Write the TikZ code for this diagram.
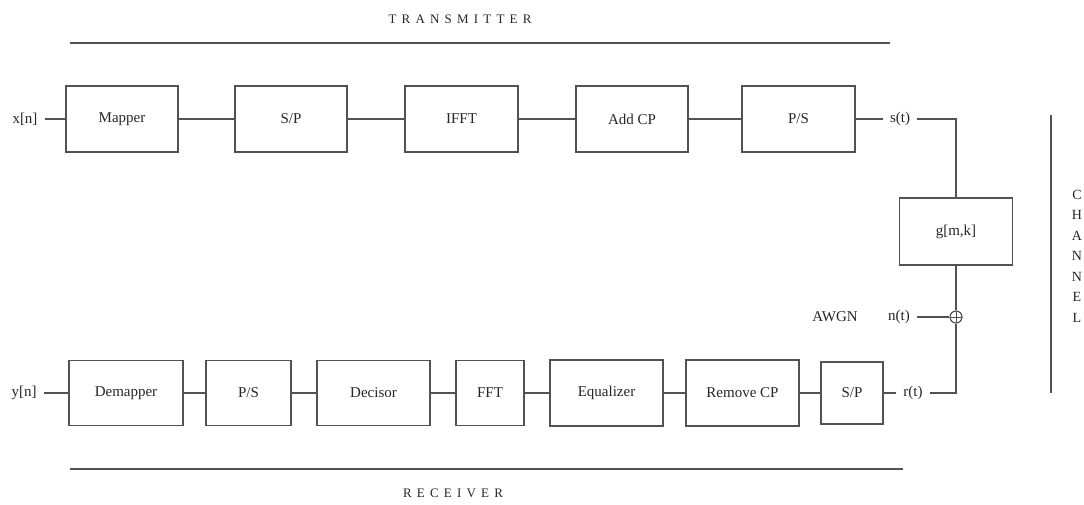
\documentclass[tikz,border=0pt]{standalone}
\usepackage{fontspec}
\setmainfont{Liberation Serif}
\newfontfamily\spacedfont[LetterSpace=40]{Liberation Serif}
\begin{document}
\begin{tikzpicture}[x=1pt,y=-1pt,
  ln/.style={draw=black!68,line width=1.2pt},
  txt/.style={font=\fontsize{15}{17}\selectfont,text=black!85},
  blk/.style={ln,txt,rectangle,minimum height=66pt,inner sep=0pt},
  lab/.style={txt,inner sep=7pt},
  wire/.style={ln}]
\useasboundingbox (0,0) rectangle (1084,504);
% transmitter
\node[txt,font=\spacedfont\fontsize{13}{15}\selectfont] (tx) at (460,19) {TRANSMITTER};
\draw[wire] (70,43) -- (890,43);
\node[lab] (xn) at (25,119) {x[n]};
\node[blk,minimum width=112pt] (map) at (122,119) {Mapper};
\node[blk,minimum width=112pt] (sp1) at (291,119) {S/P};
\node[blk,minimum width=113pt] (ifft) at (461.5,119) {IFFT};
\node[blk,minimum width=112pt] (acp) at (632,119) {Add CP};
\node[blk,minimum width=113pt] (ps1) at (798.5,119) {P/S};
\node[lab] (st) at (900,119) {s(t)};
\draw[wire] (xn) -- (map);
\draw[wire] (map) -- (sp1);
\draw[wire] (sp1) -- (ifft);
\draw[wire] (ifft) -- (acp);
\draw[wire] (acp) -- (ps1);
\draw[wire] (ps1) -- (st);
% channel
\node[blk,minimum width=113pt,minimum height=67pt] (g) at (956,231.5) {g[m,k]};
\draw[wire] (st.east) -| (g.north);
\node[ln,circle,minimum size=12pt,inner sep=0pt,
  path picture={\draw[black!68,line width=1pt]
    (path picture bounding box.north) -- (path picture bounding box.south)
    (path picture bounding box.west) -- (path picture bounding box.east);}] (sum) at (956,317) {};
\node[lab] (nt) at (899,317) {n(t)};
\node[lab] (awgn) at (835,317) {AWGN};
\draw[wire] (g) -- (sum);
\draw[wire] (nt) -- (sum);
\draw[wire] (1051,115) -- (1051,393);
\node[txt,font=\fontsize{14}{20.5}\selectfont,align=center,inner sep=0pt] (ch) at (1077,256) {C\\H\\A\\N\\N\\E\\L};
% receiver
\node[lab] (rt) at (913,393) {r(t)};
\draw[wire] (sum) |- (rt);
\node[blk,minimum width=62pt,minimum height=62pt] (sp2) at (852,393) {S/P};
\node[blk,minimum width=113pt] (rcp) at (742.5,393) {Remove CP};
\node[blk,minimum width=113pt] (eq) at (606.5,393) {Equalizer};
\node[blk,minimum width=68pt,minimum height=65pt] (fft) at (490,393) {FFT};
\node[blk,minimum width=113pt,minimum height=65pt] (dec) at (373.5,393) {Decisor};
\node[blk,minimum width=85pt,minimum height=65pt] (ps2) at (248.5,393) {P/S};
\node[blk,minimum width=114pt,minimum height=65pt] (dem) at (126,393) {Demapper};
\node[lab] (yn) at (24,393) {y[n]};
\draw[wire] (rt) -- (sp2);
\draw[wire] (sp2) -- (rcp);
\draw[wire] (rcp) -- (eq);
\draw[wire] (eq) -- (fft);
\draw[wire] (fft) -- (dec);
\draw[wire] (dec) -- (ps2);
\draw[wire] (ps2) -- (dem);
\draw[wire] (dem) -- (yn);
\draw[wire] (70,469) -- (903,469);
\node[txt,font=\spacedfont\fontsize{13}{15}\selectfont] (rx) at (453,493) {RECEIVER};
\end{tikzpicture}
\end{document}
